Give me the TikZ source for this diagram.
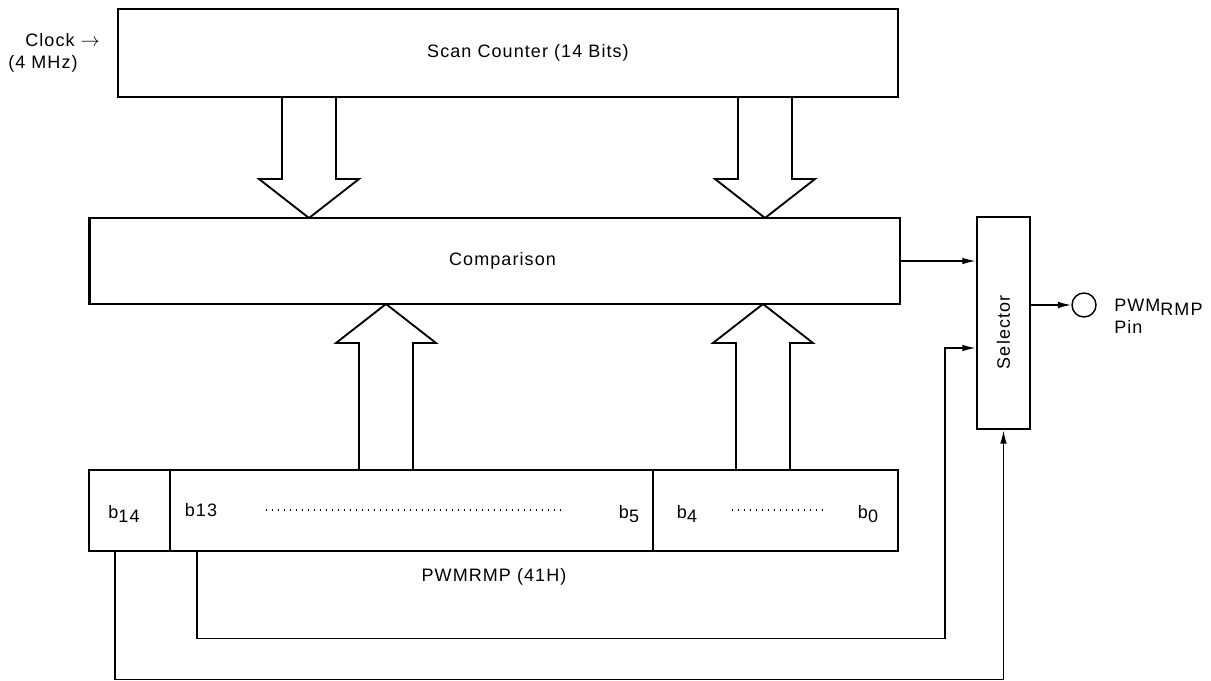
\documentclass[tikz,border=0pt]{standalone}
\usepackage{fontspec}
\setmainfont{Liberation Sans}[LetterSpace=6]
\usetikzlibrary{positioning,calc,arrows.meta}

\newcommand{\lowsub}[1]{\raisebox{-0.45ex}{#1}}
% wide hollow arrow: x, base, shoulder, tip
\newcommand{\fatarrow}[4]{%
  \draw[fat] ({#1-27},#2) -- ({#1-27},#3) -- ({#1-50},#3) -- (#1,#4)
    -- ({#1+50},#3) -- ({#1+27},#3) -- ({#1+27},#2);}

\begin{document}
\begin{tikzpicture}[x=0.75pt, y=-0.75pt, >={Latex[length=10pt,width=5pt]},
        font=\fontsize{13.5}{16.5}\selectfont,
        block/.style={rectangle, draw, line width=2pt, inner sep=0pt},
        fat/.style={line width=1.4pt, line join=miter},
        wire/.style={line width=1.1pt},
        divider/.style={line width=0.9pt},
        dots/.style={line width=1.1pt, dash pattern=on 0.8pt off 3.7pt}]
        \useasboundingbox (0,0) rectangle (1211,681);

        \node[block, minimum width=585pt, minimum height=66pt] (scan) at (508,53)
             {\hspace*{30pt}Scan Counter (14 Bits)};
        \node[anchor=north west, align=left, inner sep=0pt] (clock) at (8,33)
             {\hspace*{12.75pt}Clock $\rightarrow$\\(4 MHz)};
        \node[block, minimum width=608pt, minimum height=64.5pt] (comp) at (494.5,261)
             {\hspace*{12pt}Comparison};
        \node[block, rotate=90, minimum width=159pt, minimum height=39.75pt] (sel) at (1003.5,323)
             {\hspace*{-14pt}Selector};
        \node[block, minimum width=606.75pt, minimum height=60.75pt] (reg) at (493.5,510.5) {};
        \node[circle, draw, line width=1.1pt, minimum size=18pt, inner sep=0pt] (pin) at (1084,305) {};
        \node[anchor=west, align=left, inner sep=0pt] (pinname) at (1114,316) {PWM\lowsub{RMP}\\Pin};

        % register fields
        \coordinate (d1) at (170,0);
        \coordinate (d2) at (653,0);
        \draw[divider] (reg.north -| d1) -- (reg.south -| d1);
        \draw[divider] (reg.north -| d2) -- (reg.south -| d2);
        \node (b14) at (124,514) {b\lowsub{14}};
        \node (b13) at (201,510) {b13};
        \node (b5) at (629,514) {b\lowsub{5}};
        \node (b4) at (687,514) {b\lowsub{4}};
        \node (b0) at (868,514) {b\lowsub{0}};
        \draw[dots] (266,510) -- (565,510);
        \draw[dots] (732,510) -- (823,510);
        \node (regname) at (494,577) {PWMRMP (41H)};

        % data paths
        \fatarrow{309}{97}{179}{218}
        \fatarrow{765}{97}{179}{218}
        \fatarrow{386}{470}{343}{304}
        \fatarrow{763}{470}{343}{304}

        % control lines
        \coordinate (t14) at (115,0);
        \coordinate (t13) at (197,0);
        \coordinate (in13) at ($(sel.north)+(0,25)$);
        \draw[wire,->] (comp.east) -- (comp.east -| sel.north);
        \draw[wire,->] (pin -| sel.south) -- (pin.west);
        \draw[wire,->] (reg.south -| t13) -- ++(0,86) -| (945,348) -- (in13);
        \draw[wire,->] (reg.south -| t14) -- ++(0,127) -| (sel.west);
    \end{tikzpicture}
\end{document}
